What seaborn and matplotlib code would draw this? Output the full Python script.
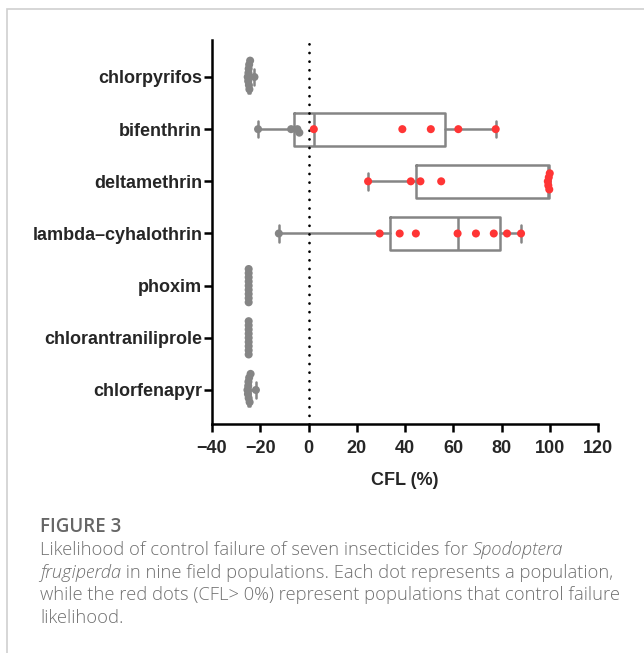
import numpy as np
import pandas as pd
import seaborn as sns
import matplotlib.pyplot as plt
from matplotlib.patches import Rectangle

# categories (top to bottom) and CFL (%) of the nine field populations
insecticides = ["chlorpyrifos", "bifenthrin", "deltamethrin", "lambda–cyhalothrin",
                "phoxim", "chlorantraniliprole", "chlorfenapyr"]
chlorpyrifos = [-25.2, -25.0, -24.9, -24.8, -24.7, -24.6, -24.5, -24.2, -22.4]
bifenthrin = [-20.9, -7.2, -4.6, -3.8, 2.2, 38.9, 50.7, 62.1, 77.6]
deltamethrin = [24.7, 42.4, 46.4, 55.0, 99.2, 99.4, 99.6, 99.8, 100.0]
lambda_cyhalothrin = [-12.3, 29.5, 37.8, 44.5, 61.8, 69.4, 76.8, 82.3, 88.1]
phoxim = [-24.8, -24.8, -24.8, -24.8, -24.8, -24.8, -24.8, -24.8, -24.8]
chlorantraniliprole = [-24.8, -24.8, -24.8, -24.8, -24.8, -24.8, -24.8, -24.8, -24.8]
chlorfenapyr = [-25.3, -25.1, -25.0, -24.9, -24.8, -24.6, -24.4, -24.0, -21.8]
xticks = [-40, -20, 0, 20, 40, 60, 80, 100, 120]

values = [chlorpyrifos, bifenthrin, deltamethrin, lambda_cyhalothrin,
          phoxim, chlorantraniliprole, chlorfenapyr]
df = pd.DataFrame({
    "insecticide": np.repeat(insecticides, [len(v) for v in values]),
    "CFL": np.concatenate(values),
})
df["group"] = np.where(df["CFL"] > 0, "fail", "ok")

sns.set_style("ticks")
plt.rcParams["font.family"] = ["Liberation Sans", "DejaVu Sans"]
gray = "#858585"
red = "#ff3535"

fig = plt.figure(figsize=(6.44, 6.53), dpi=100)
ax = fig.add_axes([212 / 644, 229 / 653, 386 / 644, 384 / 653])

# boxes: GraphPad-style quartiles, whiskers min to max
stats = []
for name, v in zip(insecticides, values):
    q1, med, q3 = np.percentile(v, [25, 50, 75], method="weibull")
    stats.append(dict(med=med, q1=q1, q3=q3, whislo=min(v), whishi=max(v), fliers=[]))
lp = dict(color=gray, lw=1.8)
ax.bxp(stats, positions=range(len(insecticides)), widths=0.63, capwidths=0.315,
       orientation="horizontal", showfliers=False, manage_ticks=False,
       boxprops=lp, whiskerprops=lp, capprops=lp, medianprops=lp, zorder=2)

ax.axvline(0, color="black", lw=2, linestyle=(0, (0.01, 3.1)),
           dash_capstyle="round", zorder=2.5)

sns.swarmplot(data=df, x="CFL", y="insecticide", hue="group", order=insecticides,
              palette={"fail": red, "ok": gray}, size=3.0, linewidth=0,
              legend=False, ax=ax, zorder=3)

# swarm positions are computed at draw time; freeze them, then enlarge the dots
fig.canvas.draw()
for coll in ax.collections:
    if "draw" in coll.__dict__:
        del coll.draw
    coll.set_sizes([5.8 ** 2])

ax.set_xlim(-40, 120)
ax.set_xticks(xticks)
ax.set_ylim(6.652, -0.709)
ax.set_ylabel("")
ax.set_xlabel("CFL (%)", fontsize=13, fontweight="bold", labelpad=11)
sns.despine(ax=ax)
for s in ["left", "bottom"]:
    ax.spines[s].set_linewidth(1.8)
    ax.spines[s].set_color("black")
ax.tick_params(axis="both", width=1.8, length=6, color="black", labelsize=13)
ax.tick_params(axis="y", pad=1)
ax.tick_params(axis="x", pad=5.5)
for lab in ax.get_xticklabels() + ax.get_yticklabels():
    lab.set_fontweight("bold")

# caption and frame
fig.add_artist(Rectangle((7 / 644, -0.1), 1.2, 1.1 - 9 / 653, transform=fig.transFigure,
                         fill=False, edgecolor="#cfcfcf", lw=1.2))
cap = dict(family=["Open Sans", "DejaVu Sans"], fontsize=13.2, color="#707070",
           fontweight="light", va="baseline", ha="left")
x0 = 40 / 644
fig.text(x0, 1 - 531.7 / 653, "FIGURE 3", family=["Open Sans", "DejaVu Sans"],
         fontsize=13.5, color="#666666", fontweight="semibold", va="baseline")
t1 = fig.text(x0, 1 - 555 / 653, "Likelihood of control failure of seven insecticides for ", **cap)
t2 = fig.text(x0, 1 - 577.5 / 653, "frugiperda", style="italic", **cap)
fig.text(x0, 1 - 600 / 653, "while the red dots (CFL> 0%) represent populations that control failure", **cap)
fig.text(x0, 1 - 623 / 653, "likelihood.", **cap)

# place the pieces that follow the first part of a line
r = fig.canvas.get_renderer()
fig.text(t1.get_window_extent(r).x1 / fig.bbox.width, 1 - 555 / 653, "Spodoptera",
         style="italic", **cap)
fig.text(t2.get_window_extent(r).x1 / fig.bbox.width, 1 - 577.5 / 653,
         " in nine field populations. Each dot represents a population,", **cap)

fig.savefig("out.png", dpi=100)
